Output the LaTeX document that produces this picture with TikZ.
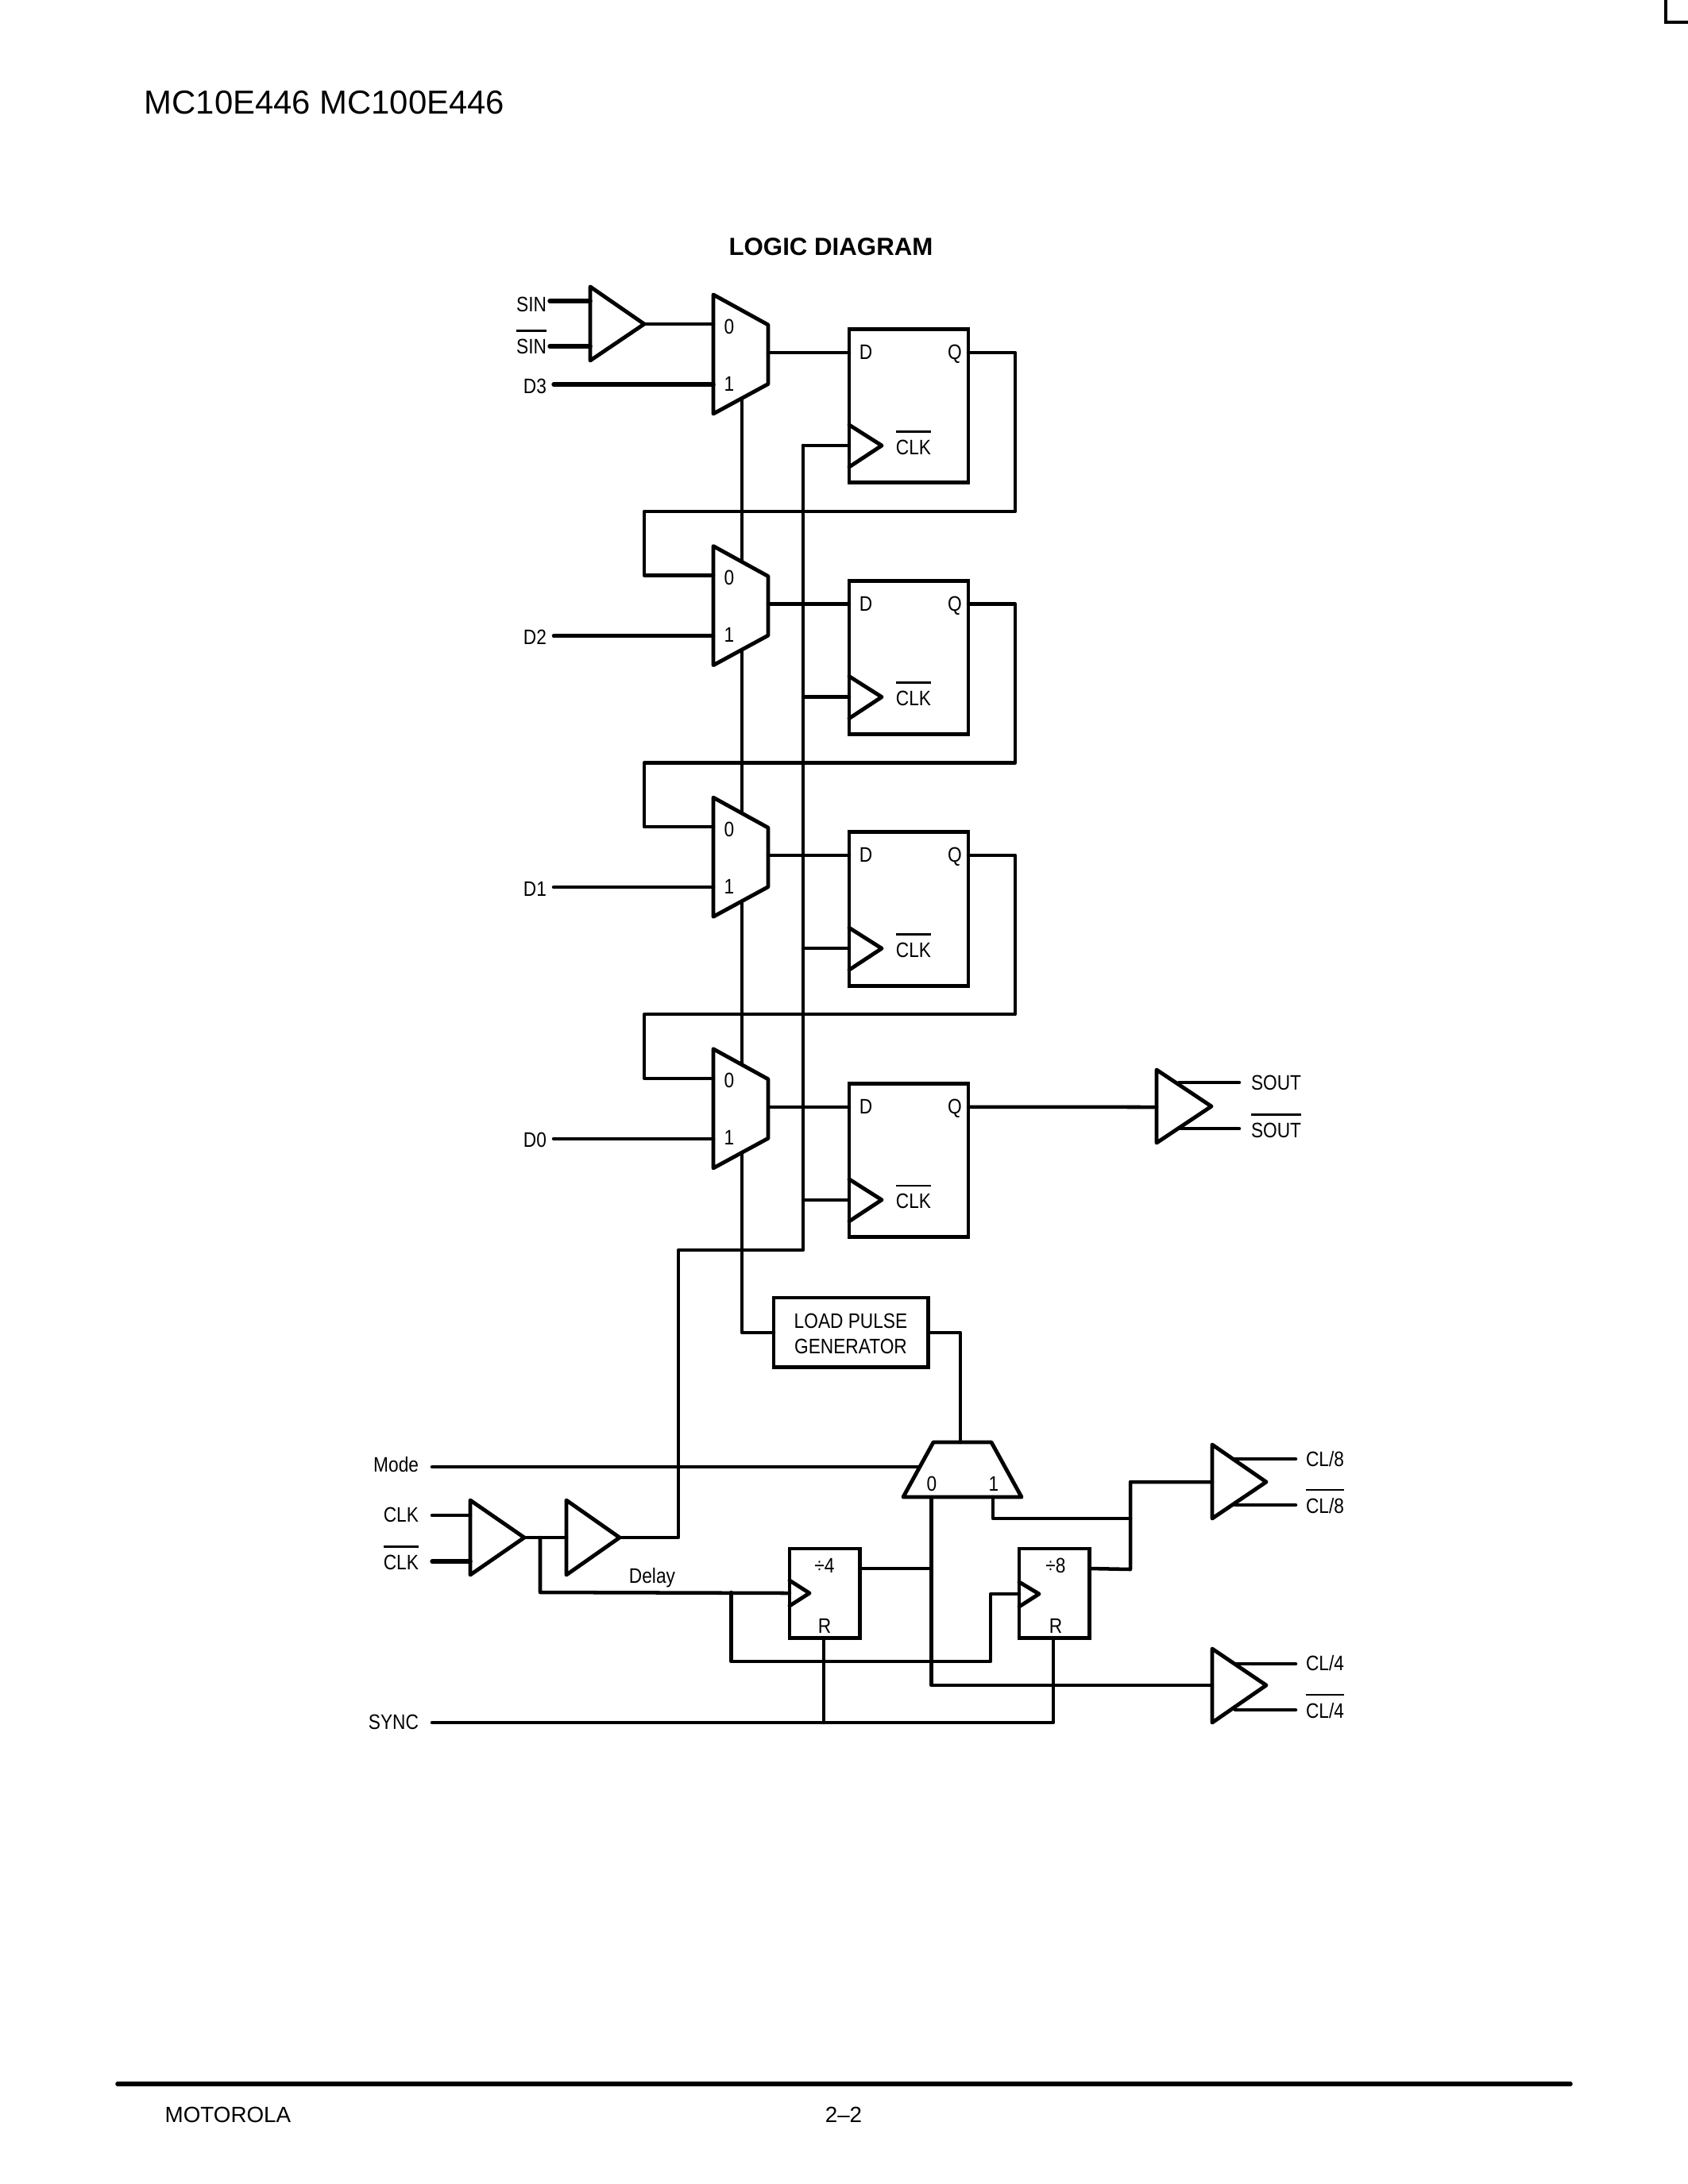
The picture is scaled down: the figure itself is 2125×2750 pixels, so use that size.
\documentclass[tikz,border=0pt]{standalone}
\usepackage{fontspec}
\setmainfont{Liberation Sans}
\newfontfamily\narrowfam[FakeStretch=0.86]{Liberation Sans}
\newcommand\ob[1]{\leavevmode\vbox{\hrule height .8pt \kern 2.6pt \hbox{#1}}}
\tikzset{
  px/.style={x=0.288pt,y=-0.288pt},
  wire/.style={line width=1.3pt,line cap=round,line join=round},
  thickwire/.style={line width=1.55pt,line cap=round,line join=round},
  gate/.style={line width=1.4pt,line join=round,line cap=round},
  lab/.style={inner sep=0pt,outer sep=0pt,font=\narrowfam\fontsize{7.6}{9}\selectfont},
  labE/.style={lab,anchor=base east},
  labW/.style={lab,anchor=base west},
  labC/.style={lab,anchor=base},
  ffbox/.style={draw,line width=1.4pt,anchor=north west,inner sep=0pt,outer sep=0pt,minimum width=43.2pt,minimum height=55.7pt},
  smallbox/.style={draw,line width=1.4pt,anchor=north west,inner sep=0pt,outer sep=0pt},
}
\newcommand\bufgate[6]{% name, left x, top y, tip x, mid y, bottom y
  \draw[gate] (#2,#3) -- (#4,#5) -- (#2,#6) -- cycle;
  \coordinate (#1tip) at (#4,#5);}
\begin{document}
\begin{tikzpicture}[px]
\useasboundingbox (0,0) rectangle (2125,2750);
% page furniture
\coordinate (ca) at (2097,0); \coordinate (cb) at (2097,28); \coordinate (cc) at (2125,28);
\draw[line width=1.15pt] (ca) -- (cb) -- (cc);
\node[anchor=base west,inner sep=0pt,font=\fontsize{12.05}{14}\selectfont] (hdr) at (181,143) {MC10E446 MC100E446};
\node[anchor=base,inner sep=0pt,font=\bfseries\fontsize{9}{11}\selectfont] (title) at (1046,321) {LOGIC DIAGRAM};
\coordinate (fa) at (148,2624); \coordinate (fb) at (1977,2624);
\draw[line width=1.6pt,line cap=round] (fa) -- (fb);
\node[anchor=base west,inner sep=0pt,font=\fontsize{8}{10}\selectfont] (moto) at (207,2672) {MOTOROLA};
\node[anchor=base,inner sep=0pt,font=\fontsize{8}{10}\selectfont] (pg) at (1062,2672) {2--2};

% four register stages
\foreach \i/\lbl in {0/D3,1/D2,2/D1,3/D0}{
\begin{scope}[shift={(0,\i*316.6)}]
  \draw[gate] (898,371) -- (967,409) -- (967,483.5) -- (898,521) -- cycle;
  \node[labC] (m\i z) at (918,420) {0};
  \node[labC] (m\i o) at (918,492) {1};
  \coordinate (in0\i) at (898,408);
  \coordinate (in1\i) at (898,484);
  \coordinate (mo\i) at (967,444);
  \coordinate (lt\i) at (934,390.7);
  \coordinate (lb\i) at (934,501.6);
  \node[ffbox] (ff\i) at (1069,414.5) {};
  \node[labC] (d\i) at (1090,452.5) {D};
  \node[labC] (q\i l) at (1202,452.5) {Q};
  \node[labC] (c\i) at (1150,572) {\ob{CLK}};
  \draw[gate] (1069,535) -- (1110,561) -- (1069,588);
  \coordinate (dp\i) at (1069,444);
  \coordinate (q\i) at (1219,444);
  \coordinate (cp\i) at (1069,561);
  \coordinate (cv\i) at (1011,561);
  \coordinate (fr\i) at (1278,644);
  \coordinate (fl\i) at (811,644);
  \node[labE] (in\i l) at (688,495) {\lbl};
  \coordinate (inp\i) at (697,484);
  \draw[wire] (mo\i) -- (dp\i);
  \draw[wire] (cv\i) -- (cp\i);
\end{scope}
}
\draw[thickwire] (inp0) -- (in10);
\foreach \i in {1,2,3}{\draw[wire] (inp\i) -- (in1\i);}

% feedback from Q to the next multiplexer
\foreach \i/\j in {0/1,1/2,2/3}{
  \draw[wire] (q\i) -| (fr\i) -- (fl\i) |- (in0\j);
  \draw[wire] (lb\i) -- (lt\j);
}

% SIN input buffer
\bufgate{sb}{743}{361}{811}{408}{454}
\coordinate (sa) at (692,379); \coordinate (sa2) at (743,379);
\coordinate (sc) at (692,436); \coordinate (sc2) at (743,436);
\draw[thickwire] (sa) -- (sa2);
\draw[thickwire] (sc) -- (sc2);
\draw[wire] (sbtip) -- (in00);
\node[labE] (sinl) at (688,392) {SIN};
\node[labE] (sinb) at (688,445) {\ob{SIN}};

% SOUT output buffer
\bufgate{so}{1456}{1347}{1525}{1393}{1439}
\coordinate (soin) at (1456,1394);
\draw[wire] (q3) -- (soin);
\coordinate (soa) at (1484,1363); \coordinate (soa2) at (1560,1363);
\coordinate (sob) at (1484,1421); \coordinate (sob2) at (1560,1421);
\draw[wire] (soa) -- (soa2);
\draw[wire] (sob) -- (sob2);
\node[labW] (soutl) at (1575,1372) {SOUT};
\node[labW] (soutb) at (1575,1432) {\ob{SOUT}};

% load pulse generator
\node[smallbox,minimum width=56pt,minimum height=25.3pt] (lpg) at (974,1634) {};
\node[labC] (lp1) at (1071,1672) {LOAD PULSE};
\node[labC] (lp2) at (1071,1704) {GENERATOR};
\coordinate (lpin) at (974,1678);
\coordinate (lpout) at (1168,1678);
\coordinate (mt) at (1209,1816);
\draw[wire] (lb3) |- (lpin);
\draw[wire] (lpout) -| (mt);

% output multiplexer
\draw[gate] (1175,1816) -- (1248,1816) -- (1286,1885) -- (1137,1885) -- cycle;
\node[labC] (bm0) at (1173,1877) {0};
\node[labC] (bm1) at (1251,1877) {1};
\node[labE] (model) at (527,1853) {Mode};
\coordinate (modea) at (544,1847); \coordinate (modeb) at (1158,1847);
\draw[wire] (modea) -- (modeb);

% clock input
\node[labE] (clkl) at (527,1916) {CLK};
\node[labE] (clkb) at (527,1976.5) {\ob{CLK}};
\coordinate (ka) at (544,1908); \coordinate (ka2) at (592,1908);
\coordinate (kb) at (544,1966); \coordinate (kb2) at (592,1966);
\draw[wire] (ka) -- (ka2);
\draw[thickwire] (kb) -- (kb2);
\bufgate{ba}{592}{1889}{660}{1936}{1983}
\bufgate{bb}{713}{1889}{780}{1936}{1983}
\coordinate (bbin) at (713,1936);
\draw[wire] (batip) -- (bbin);
\coordinate (kv) at (854,1574); \coordinate (kr) at (1011,1574);
\draw[wire] (bbtip) -| (kv) -- (kr) -- (cv0);

% divide by 4
\node[smallbox,minimum width=25.6pt,minimum height=32.3pt] (d4) at (994,1950) {};
\node[labC] (d4t) at (1038,1980) {÷4};
\node[labC] (d4r) at (1038,2056) {R};
\draw[gate] (994,1990) -- (1019,2006) -- (994,2022);
\coordinate (d4clk) at (994,2006);
\coordinate (d4q) at (1083,1975);
% divide by 8
\node[smallbox,minimum width=25.6pt,minimum height=32.5pt] (d8) at (1283,1950) {};
\node[labC] (d8t) at (1329,1980) {÷8};
\node[labC] (d8r) at (1329,2056) {R};
\draw[gate] (1283,1992) -- (1308,2007) -- (1283,2023);
\coordinate (d8clk) at (1283,2007);
\coordinate (d8q) at (1372,1975);

% delay line
\node[labC] (delay) at (821,1993) {Delay};
\coordinate (dl0) at (680,1936); \coordinate (dl1) at (680,2005);
\draw[wire] (dl0) -- (dl1) -- (d4clk);
\coordinate (dj) at (920.6,2005); \coordinate (dk) at (920.6,2092);
\coordinate (dm) at (1247,2092); \coordinate (dn) at (1247,2007);
\draw[wire] (dj) -- (dk) -- (dm) -- (dn) -- (d8clk);

% mux 0 path and CL/4 buffer
\coordinate (m0o) at (1172.5,1885); \coordinate (m0t) at (1172.5,1975);
\coordinate (m0c) at (1172.5,2122); \coordinate (cl4in) at (1526,2122);
\draw[wire] (m0o) -- (m0c) -- (cl4in);
\draw[wire] (d4q) -- (m0t);
\bufgate{cfour}{1526}{2076}{1594}{2122}{2169}
\coordinate (c4a) at (1555,2095); \coordinate (c4a2) at (1631,2095);
\coordinate (c4b) at (1555,2153); \coordinate (c4b2) at (1631,2153);
\draw[wire] (c4a) -- (c4a2);
\draw[wire] (c4b) -- (c4b2);
\node[labW] (cl4) at (1644,2103.5) {CL/4};
\node[labW] (cl4b) at (1644,2163.5) {\ob{CL/4}};

% mux 1 path and CL/8 buffer
\coordinate (m1o) at (1250,1885); \coordinate (m1c) at (1250,1912);
\coordinate (j8) at (1423,1912); \coordinate (j8t) at (1423,1866); \coordinate (j8b) at (1423,1976);
\coordinate (cl8in) at (1526,1866);
\draw[wire] (m1o) -- (m1c) -- (j8);
\draw[wire] (d8q) -- (j8b) -- (j8t) -- (cl8in);
\bufgate{ceight}{1526}{1819}{1594}{1866}{1912}
\coordinate (c8a) at (1555,1837); \coordinate (c8a2) at (1631,1837);
\coordinate (c8b) at (1555,1895); \coordinate (c8b2) at (1631,1895);
\draw[wire] (c8a) -- (c8a2);
\draw[wire] (c8b) -- (c8b2);
\node[labW] (cl8) at (1644,1846) {CL/8};
\node[labW] (cl8b) at (1644,1905.5) {\ob{CL/8}};

% SYNC
\node[labE] (syncl) at (527,2177) {SYNC};
\coordinate (sya) at (544,2169); \coordinate (syb) at (1037,2169);
\coordinate (syc) at (1326,2169); \coordinate (d4b) at (1037,2062); \coordinate (d8b) at (1326,2063);
\draw[wire] (sya) -- (syc) -- (d8b);
\draw[wire] (syb) -- (d4b);
\end{tikzpicture}
\end{document}
